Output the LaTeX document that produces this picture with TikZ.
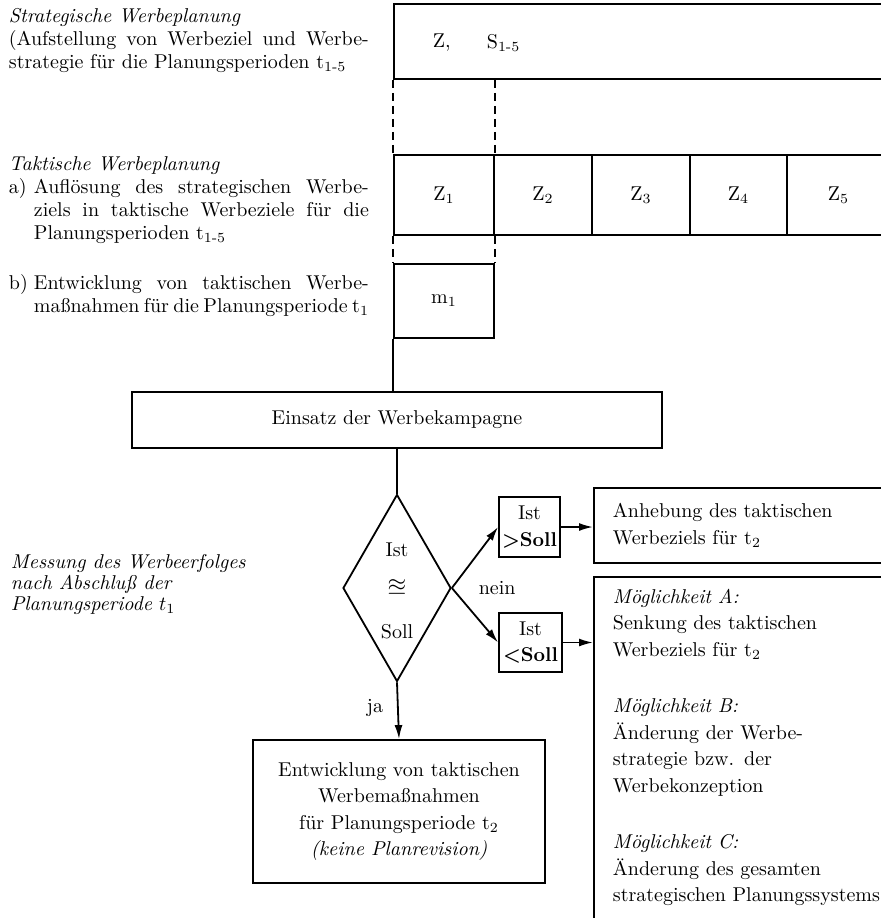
\documentclass[tikz,border=0pt]{standalone}
\usepackage{amssymb}
\usetikzlibrary{positioning,shapes.geometric,arrows.meta}
\tikzset{
  box/.style={draw, inner sep=0pt, font=\fontsize{10}{13.25}\selectfont},
  lbl/.style={inner sep=0pt, font=\fontsize{10}{13.25}\selectfont},
  links/.style={inner sep=0pt, anchor=north west, align=left, font=\fontsize{10}{11.5}\selectfont},
  dashln/.style={dash pattern=on 4pt off 2.5pt},
  pfeil/.style={-{Latex[length=7pt,width=4pt]}},
}
\newcommand{\zeile}[2][167.5pt]{\makebox[#1][s]{#2}}
\newcommand{\einzug}{\hspace*{12.5pt}}
\begin{document}
\begin{tikzpicture}[x=0.5pt,y=-0.5pt,line width=0.9pt]
  \useasboundingbox (0,0) rectangle (881,918);
  \clip (0,0) rectangle (881,918);
  %texte links
  \node[links] (strattxt) at (8,7) {\textit{Strategische Werbeplanung}\\ \zeile[180pt]{(Aufstellung von Werbeziel und Werbe-}\\ strategie für die Planungsperioden t\textsubscript{1-5}};
  \node[links] (takttxt) at (8,156) {\textit{Taktische Werbeplanung}\\
    \makebox[12.5pt][l]{a)}\zeile{Auflösung des strategischen Werbe-}\\
    \einzug\zeile{ziels in taktische Werbeziele für die}\\
    \einzug Planungsperioden t\textsubscript{1-5}};
  \node[links] (massntxt) at (8,274) {\makebox[12.5pt][l]{b)}\zeile{Entwicklung von taktischen Werbe-}\\
    \einzug\zeile{maßnahmen für die Planungsperiode t\textsubscript{1}}};
  \node[links, font=\fontsize{10}{10.5}\selectfont\itshape] (messtxt) at (10,553) {Messung des Werbeerfolges\\ nach Abschluß der\\ Planungsperiode $t_1$};
  %planung
  \node[box, minimum width=248pt, minimum height=37.5pt] (strat) at (642,41.5) {};
  \node[lbl, anchor=west] (zs) at (432,43) {Z,};
  \node[lbl, anchor=west] (s15) at (486,43) {S\textsubscript{1-5}};
  \foreach \n/\xl/\xr in {1/394/494, 2/494/592, 3/592/690, 4/690/787, 5/787/890}
    \node[box, minimum width={(\xr-\xl)*0.5pt}, minimum height=40pt] (z\n) at ({(\xl+\xr)/2},195) {Z\textsubscript{\n}};
  \node[box, minimum width=50pt, minimum height=37pt] (m1) at (444,301) {m\textsubscript{1}};
  \draw[dashln] (strat.south west) -- (z1.north west);
  \draw[dashln] (z1.north east |- strat.south) -- (z1.north east);
  \draw[dashln] (z1.south west) -- (m1.north west);
  \draw[dashln] (z1.south east) -- (m1.north east);
  %kampagne
  \node[box, minimum width=265pt, minimum height=28pt] (einsatz) at (397,420) {Einsatz der Werbekampagne};
  \draw (m1.south west) -- (m1.south west |- einsatz.north);
  %kontrolle
  \node[draw, diamond, minimum width=54pt, minimum height=93.5pt, inner sep=0pt] (cmp) at (397,588) {};
  \node[lbl] (ist) at (397,550) {Ist};
  \node[lbl] (ungef) at (397,587) {\large$\approxeq$};
  \node[lbl] (soll) at (397,632) {Soll};
  \draw (einsatz.south -| cmp.north) -- (cmp.north);
  \node[lbl, right=13pt of cmp.east] (nein) {nein};
  \node[box, minimum width=30.5pt, minimum height=30pt, align=center] (gt) at (529.5,527) {Ist\\ \textbf{>Soll}};
  \node[box, minimum width=31.5pt, minimum height=29.5pt, align=center] (lt) at (530.5,642.5) {Ist\\ \textbf{<Soll}};
  \draw[pfeil] (cmp.east) -- (gt.west);
  \draw[pfeil] (cmp.east) -- (lt.west);
  %revision
  \node[box, anchor=north west, minimum width=148.5pt, minimum height=37.5pt, text width=129.5pt, inner xsep=9.5pt, align=left] (anh) at (593,487) {Anhebung des taktischen\\ Werbeziels für t\textsubscript{2}};
  \node[box, anchor=north west, minimum width=148.5pt, minimum height=180pt] (moegl) at (593,576) {};
  \node[lbl, anchor=north west, text width=135pt, align=left] (moegltxt) at (612,588) {\textit{Möglichkeit A:}\\ Senkung des taktischen\\ Werbeziels für t\textsubscript{2}\\[15pt]
    \textit{Möglichkeit B:}\\ Änderung der Werbe-\\ strategie bzw. der\\ Werbekonzeption\\[15pt]
    \textit{Möglichkeit C:}\\ Änderung des gesamten\\ strategischen Planungssystems};
  \draw[pfeil] (gt.east) -- (gt.east -| anh.west);
  \draw[pfeil] (lt.east) -- (lt.east -| moegl.west);
  \node[box, minimum width=146pt, minimum height=71.5pt, align=center] (entw) at (399,811.5) {Entwicklung von taktischen\\ Werbemaßnahmen\\ für Planungsperiode t\textsubscript{2}\\ \textit{(keine Planrevision)}};
  \draw[pfeil] (cmp.south) -- node[lbl, left=7pt, pos=0.45] {ja} (entw.north);
\end{tikzpicture}
\end{document}
